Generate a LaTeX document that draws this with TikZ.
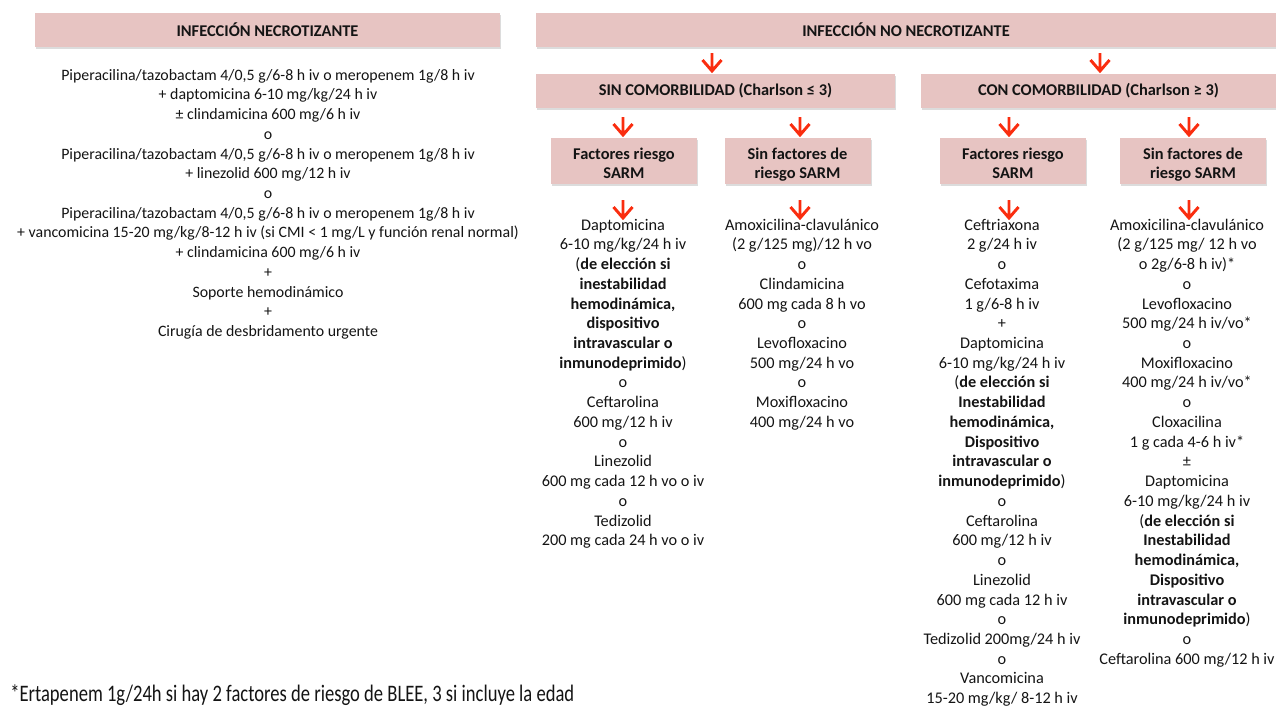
\documentclass[tikz,border=0pt]{standalone}
\usepackage{fontspec}
\setmainfont{Carlito}
\usetikzlibrary{shadows}
\definecolor{boxpink}{RGB}{231,196,194}
\definecolor{arrred}{RGB}{250,45,15}
\definecolor{txt}{RGB}{20,20,20}
\tikzset{
  hdr/.style={fill=boxpink, draw=none, text=txt, inner sep=0pt,
    drop shadow={shadow xshift=1.1pt, shadow yshift=-1.4pt, opacity=0.28},
    font=\bfseries\fontsize{12.3}{14.3}\selectfont, align=center},
  hdrwide/.style={hdr, minimum height=25.5pt},
  sarm/.style={hdr, minimum width=109.5pt, minimum height=34.5pt,
    text height=26pt, text depth=0pt},
  body/.style={align=center, anchor=north, inner sep=0pt, text=txt,
    font=\fontsize{11.9}{14.8}\selectfont},
  colbody/.style={body, font=\fontsize{12.2}{14.8}\selectfont},
  redarr/.style={draw=arrred, line width=2.2pt, line join=miter, line cap=butt},
  downarr/.pic={\draw[redarr] (0,0) -- (0,18) (-9.5,7) -- (0,18) -- (9.5,7);}
}
\begin{document}
\begin{tikzpicture}[x=0.75pt,y=-0.75pt]
\useasboundingbox (0,0) rectangle (1276,707);

% header boxes
\node[hdrwide, minimum width=348.75pt] (nec) at (267.5,30) {INFECCIÓN NECROTIZANTE};
\node[hdrwide, minimum width=555pt] (nonec) at (906,30) {INFECCIÓN NO NECROTIZANTE};
\node[hdrwide, minimum width=269.25pt] (sin) at (715.5,91) {SIN COMORBILIDAD (Charlson ≤ 3)};
\node[hdrwide, minimum width=266.25pt] (con) at (1098.5,91) {CON COMORBILIDAD (Charlson ≥ 3)};

\node[sarm] (f1) at (624,161) {Factores riesgo\\SARM};
\node[sarm] (sf1) at (797.5,161) {Sin factores de\\riesgo SARM};
\node[sarm] (f2) at (1013,161) {Factores riesgo\\SARM};
\node[sarm] (sf2) at (1193,161) {Sin factores de\\riesgo SARM};

% arrows
\coordinate (a1) at (712,53);
\coordinate (a2) at (1100,53);
\coordinate (b1) at (623,117);
\coordinate (b2) at (800,117);
\coordinate (b3) at (1009,117);
\coordinate (b4) at (1189,117);
\coordinate (c1) at (623,200);
\coordinate (c2) at (800,200);
\coordinate (c3) at (1009,200);
\coordinate (c4) at (1189,200);
\foreach \p in {a1,a2,b1,b2,b3,b4,c1,c2,c3,c4} {\pic at (\p) {downarr};}

% left column
\node[body] (left) at (268,66) {\strut Piperacilina/tazobactam 4/0,5 g/6-8 h iv o meropenem 1g/8 h iv\\
+ daptomicina 6-10 mg/kg/24 h iv\\
± clindamicina 600 mg/6 h iv\\
o\\
Piperacilina/tazobactam 4/0,5 g/6-8 h iv o meropenem 1g/8 h iv\\
+ linezolid 600 mg/12 h iv\\
o\\
Piperacilina/tazobactam 4/0,5 g/6-8 h iv o meropenem 1g/8 h iv\\
+ vancomicina 15-20 mg/kg/8-12 h iv (si CMI < 1 mg/L y función renal normal)\\
+ clindamicina 600 mg/6 h iv\\
+\\
Soporte hemodinámico\\
+\\
Cirugía de desbridamento urgente};

% column 1
\node[colbody] (col1) at (623,216) {\strut Daptomicina\\
6-10 mg/kg/24 h iv\\
(\textbf{de elección si}\\
\textbf{inestabilidad}\\
\textbf{hemodinámica,}\\
\textbf{dispositivo}\\
\textbf{intravascular o}\\
\textbf{inmunodeprimido})\\
o\\
Ceftarolina\\
600 mg/12 h iv\\
o\\
Linezolid\\
600 mg cada 12 h vo o iv\\
o\\
Tedizolid\\
200 mg cada 24 h vo o iv};

% column 2
\node[colbody] (col2) at (802,216) {\strut Amoxicilina-clavulánico\\
(2 g/125 mg)/12 h vo\\
o\\
Clindamicina\\
600 mg cada 8 h vo\\
o\\
Levofloxacino\\
500 mg/24 h vo\\
o\\
Moxifloxacino\\
400 mg/24 h vo};

% column 3
\node[colbody] (col3) at (1002,216) {\strut Ceftriaxona\\
2 g/24 h iv\\
o\\
Cefotaxima\\
1 g/6-8 h iv\\
+\\
Daptomicina\\
6-10 mg/kg/24 h iv\\
(\textbf{de elección si}\\
\textbf{Inestabilidad}\\
\textbf{hemodinámica,}\\
\textbf{Dispositivo}\\
\textbf{intravascular o}\\
\textbf{inmunodeprimido})\\
o\\
Ceftarolina\\
600 mg/12 h iv\\
o\\
Linezolid\\
600 mg cada 12 h iv\\
o\\
Tedizolid 200mg/24 h iv\\
o\\
Vancomicina\\
15-20 mg/kg/ 8-12 h iv};

% column 4
\node[colbody] (col4) at (1187,216) {\strut Amoxicilina-clavulánico\\
(2 g/125 mg/ 12 h vo\\
o 2g/6-8 h iv)*\\
o\\
Levofloxacino\\
500 mg/24 h iv/vo*\\
o\\
Moxifloxacino\\
400 mg/24 h iv/vo*\\
o\\
Cloxacilina\\
1 g cada 4-6 h iv*\\
±\\
Daptomicina\\
6-10 mg/kg/24 h iv\\
(\textbf{de elección si}\\
\textbf{Inestabilidad}\\
\textbf{hemodinámica,}\\
\textbf{Dispositivo}\\
\textbf{intravascular o}\\
\textbf{inmunodeprimido})\\
o\\
Ceftarolina 600 mg/12 h iv};

% footnote
\node[anchor=base west, inner sep=0pt, text=txt] (foot) at (10,701)
  {\resizebox{423pt}{12.6pt}{\fontsize{14}{16}\selectfont *Ertapenem 1g/24h si hay 2 factores de riesgo de BLEE, 3 si incluye la edad}};
\end{tikzpicture}
\end{document}
